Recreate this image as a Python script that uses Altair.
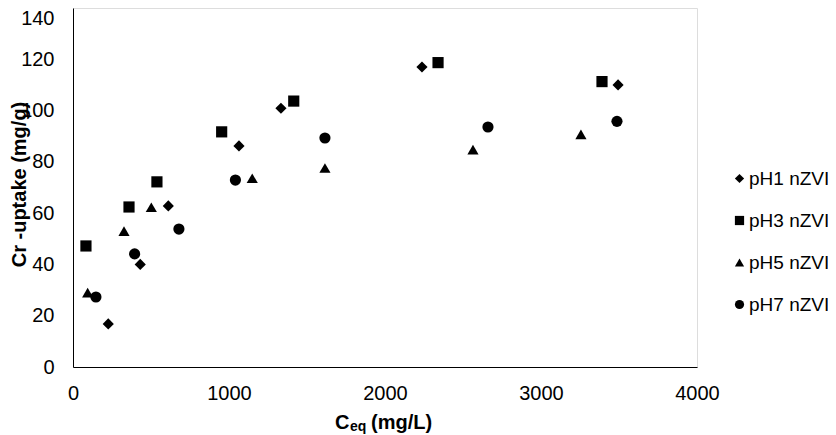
import altair as alt
import pandas as pd

series = ["pH1 nZVI", "pH3 nZVI", "pH5 nZVI", "pH7 nZVI"]
shapes = ["diamond", "square", "triangle-up", "circle"]

ph1_x = [226, 431, 611, 1064, 1333, 2237, 3494]
ph1_y = [16.8, 40.0, 62.8, 86.2, 100.9, 117.0, 110.0]
ph3_x = [83, 359, 538, 953, 1415, 2340, 3391]
ph3_y = [47.2, 62.4, 72.2, 91.7, 103.7, 118.7, 111.3]
ph5_x = [94, 327, 502, 1149, 1615, 2564, 3256]
ph5_y = [29.0, 53.0, 62.3, 73.6, 77.6, 84.8, 90.7]
ph7_x = [147, 395, 679, 1041, 1615, 2660, 3487]
ph7_y = [27.3, 44.1, 53.8, 72.9, 89.3, 93.6, 95.8]

x_ticks = [0, 1000, 2000, 3000, 4000]
y_ticks = [0, 20, 40, 60, 80, 100, 120, 140]

rows = []
for name, xs, ys in zip(series, [ph1_x, ph3_x, ph5_x, ph7_x], [ph1_y, ph3_y, ph5_y, ph7_y]):
    for a, b in zip(xs, ys):
        rows.append({"series": name, "ceq": a, "uptake": b})
df = pd.DataFrame(rows)

FONT = "Liberation Sans"

points = alt.Chart(df).mark_point(filled=True, opacity=1, color="black", strokeWidth=0, size=125).encode(
    x=alt.X("ceq:Q", scale=alt.Scale(domain=[0, 4000], nice=False),
            axis=alt.Axis(values=x_ticks, format="d", title=None, grid=False, ticks=False, tickSize=0,
                          labelPadding=16, labelFontSize=20, labelFont=FONT, labelColor="black",
                          domainColor="black", labelFlush=False)),
    y=alt.Y("uptake:Q", scale=alt.Scale(domain=[0, 140], nice=False),
            axis=alt.Axis(values=y_ticks, format="d", title="Cr -uptake (mg/g)", grid=False, ticks=False,
                          tickSize=0, labelPadding=19, labelFontSize=20, labelFont=FONT, labelColor="black",
                          labelBaseline=alt.condition("datum.value == 140", alt.value("top"), alt.value("middle")),
                          domainColor="black", labelFlush=False,
                          titleFont=FONT, titleFontSize=20, titleFontWeight="bold", titleColor="black",
                          titleX=-48, titleY=176, titleBaseline="alphabetic", titleAlign="center")),
    shape=alt.Shape("series:N", scale=alt.Scale(domain=series, range=shapes),
                    legend=alt.Legend(title=None, orient="none", legendX=657, legendY=161,
                                      labelFontSize=19, labelFont=FONT, labelColor="black",
                                      symbolSize=85, symbolFillColor="black", symbolStrokeWidth=0,
                                      rowPadding=22, labelOffset=0, padding=0)),
)

t_df = pd.DataFrame({"k": [0]})
base_t = alt.Chart(t_df)
t_c = base_t.mark_text(text="C", font=FONT, fontSize=20, fontWeight="bold", align="left",
                       baseline="alphabetic", color="black").encode(x=alt.value(262), y=alt.value(421))
t_eq = base_t.mark_text(text="eq", font=FONT, fontSize=14, fontWeight="bold", align="left",
                        baseline="alphabetic", color="black").encode(x=alt.value(277), y=alt.value(423))
t_unit = base_t.mark_text(text="(mg/L)", font=FONT, fontSize=20, fontWeight="bold", align="left",
                          baseline="alphabetic", color="black").encode(x=alt.value(298), y=alt.value(421))

chart = alt.layer(points, t_c, t_eq, t_unit).properties(
    width=624, height=359,
    padding={"left": 65, "top": 0, "right": 131, "bottom": 68},
    autosize=alt.AutoSizeParams(type="none"),
).configure_view(stroke=None).configure(background="white")

chart.save("out.html", embed_options={"renderer": "svg", "actions": False})
